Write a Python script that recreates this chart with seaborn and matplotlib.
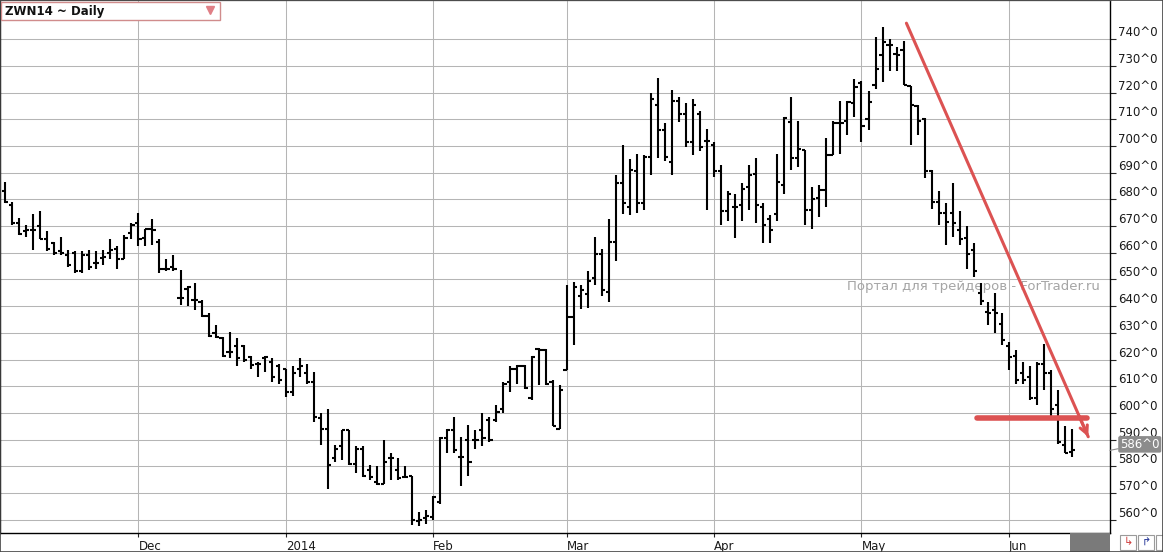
import numpy as np
import pandas as pd
import seaborn as sns
import matplotlib.pyplot as plt
from matplotlib.patches import Rectangle
from matplotlib.lines import Line2D
from matplotlib.ticker import FuncFormatter

sns.set_style('white')
plt.rcParams['font.family'] = ['DejaVu Sans']

# ZWN14 daily bars, Nov 4 2013 .. Jun 13 2014
title = 'ZWN14 ~ Daily'
watermark = 'Портал для трейдеров - ForTrader.ru'
holidays = ['2013-11-28', '2013-12-25', '2014-01-01', '2014-01-20',
            '2014-02-17', '2014-04-18', '2014-05-26']
month_labels = ['Dec', '2014', 'Feb', 'Mar', 'Apr', 'May', 'Jun']

opens = [683, 678, 671, 668, 668.5, 670, 665, 663.5, 660.5, 659, 660, 653, 659, 656, 658, 660, 661.5, 657.5, 667.5,
         671, 665.5, 669, 664, 654, 654.5, 643, 646.5, 642.5, 641.5, 636.5, 630, 628, 623, 625, 625, 621, 618.5,
         620.5, 619, 617.5,
         616.5, 608, 616.5, 615, 611.5, 598, 594, 583, 587.5, 593.5, 581, 586.5, 578.5, 574, 573.5, 583, 578.5,
         576, 576.5, 559.5, 560.5,
         561, 566.5, 590.5, 593.5, 583.5, 590, 590, 593.5, 597.5, 597.5, 601.5, 611.5, 616.5, 617.5, 605.5, 624,
         623.5, 611.5, 594,
         616, 636, 644, 644.5, 650.5, 659.5, 645.5, 664, 686, 677, 690.5, 678.5, 696, 715.5, 706, 694, 717, 712,
         701.5, 712, 702,
         700.5, 690.5, 675.5, 677, 678, 684.5, 689.5, 677, 672.5, 674.5, 685.5, 709, 695.5, 698.5, 676, 680.5,
         683.5, 696.5, 708.5, 709.5, 716,
         723.5, 710, 723, 734, 738, 734.5, 736, 722.5, 715, 710, 690.5, 679, 675, 675, 668.5, 665.5, 661, 645,
         638, 638.5, 633.5,
         625, 621.5, 615, 613.5, 605.5, 618.5, 615, 603, 588, 585.5]
highs = [686.5, 679, 673, 670.5, 674.5, 675.5, 668, 664, 666, 661, 660.5, 660.5, 661, 660.5, 661, 665, 662.5, 666.5,
         671,
         675, 669, 672.5, 665, 657.5, 659, 653.5, 647.5, 648.5, 642.5, 637.5, 633, 628.5, 630.5, 628, 625.5, 621.5,
         619, 621.5, 620.5, 618.5,
         616.5, 617.5, 620.5, 618.5, 615.5, 600, 601.5, 588, 593.5, 593.5, 587.5, 587.5, 580.5, 580, 590, 585, 583,
         580, 576.5, 563, 563.5,
         569, 591, 594, 598.5, 591, 595.5, 593.5, 600, 598.5, 603, 611.5, 617.5, 618, 618, 621.5, 624.5, 624,
         612.5, 610.5,
         648, 649, 648, 653, 666, 661.5, 672.5, 689, 700.5, 695, 697, 696.5, 720, 725.5, 708.5, 721, 718.5, 716,
         717.5, 713, 706.5,
         701.5, 693, 683, 682, 686, 693, 695.5, 678.5, 674, 697, 711, 718.5, 709.5, 698.5, 684.5, 685.5, 703,
         709.5, 717, 717, 725,
         724.5, 720.5, 741, 744.5, 740, 737, 739.5, 722.5, 715.5, 710.5, 691, 683, 678.5, 686, 675.5, 670, 663.5,
         648.5, 641.5, 645, 637.5,
         626.5, 623.5, 619, 617.5, 619, 626, 616, 608.5, 595, 594]
lows = [678.5, 670.5, 666.5, 666, 661, 665, 660.5, 659, 659, 654.5, 652.5, 652.5, 653.5, 654, 655.5, 657.5, 654,
        657.5, 665,
        662.5, 662.5, 663, 652.5, 653, 653, 640.5, 640, 638.5, 636, 628.5, 628, 621, 620.5, 617.5, 619, 616.5,
        613.5, 615.5, 611.5, 611,
        606, 606.5, 613.5, 611, 596.5, 588, 571.5, 581.5, 582.5, 580.5, 577.5, 576, 575, 573, 573.5, 575, 575,
        575.5, 558, 557.5, 558.5,
        560, 566, 585, 585, 572.5, 576.5, 586.5, 587.5, 589, 596.5, 600, 608, 611, 609, 605, 610.5, 610.5, 595,
        594,
        616, 625.5, 639, 639.5, 648, 644, 641.5, 657, 674.5, 674, 675, 676, 689, 695.5, 694.5, 689, 709, 699.5,
        696.5, 698, 676,
        688.5, 670.5, 672, 665.5, 672, 676, 671, 663.5, 663.5, 672, 682, 691, 692, 670.5, 669, 673.5, 677, 696.5,
        697, 704, 711,
        701.5, 706, 721.5, 724, 728, 728, 723, 700.5, 704, 688, 676.5, 670.5, 663, 666, 663, 654, 651, 640.5, 633,
        630, 625.5,
        616, 611, 611, 605, 603, 608.5, 599, 588.5, 585, 583.5]
closes = [679, 671, 667, 668.5, 668.5, 665, 661.5, 660, 660, 655.5, 653, 659, 654.5, 656, 658.5, 661, 657.5, 665.5,
          670.5,
          665, 669, 668.5, 654, 654, 654, 643, 647, 642.5, 636.5, 629, 628.5, 621.5, 623, 620.5, 620, 618, 618.5,
          621, 613.5, 612.5,
          608, 615, 617.5, 611.5, 598.5, 594, 580.5, 586.5, 593.5, 581, 586.5, 576.5, 576, 573.5, 581.5, 583,
          575.5, 576, 560, 560, 561.5,
          568.5, 590.5, 593.5, 586, 583.5, 581.5, 590, 590.5, 590, 600.5, 611, 616.5, 617.5, 609.5, 621, 623.5,
          611, 595, 608.5,
          636, 647, 646, 649.5, 659.5, 646, 664, 686, 678.5, 691, 678.5, 696, 717.5, 706, 696, 717, 712, 701.5,
          715.5, 699.5, 702,
          690.5, 675.5, 682, 677, 684, 689, 678, 670.5, 668.5, 686.5, 710.5, 695.5, 699, 676, 680, 683.5, 696.5,
          708.5, 708.5, 716.5, 722,
          707.5, 716.5, 729, 739, 738, 734, 723, 715.5, 709.5, 690.5, 679, 675, 671.5, 671, 665, 659.5, 653, 642,
          637.5, 637.5, 627.5,
          621, 612.5, 612.5, 605.5, 618.5, 615, 601.5, 589, 585, 586]

# hand-drawn annotations (bar index, price)
trend_x = [128.4, 154.3]
trend_y = [746.0, 591.1]
support_x = [138.4, 154.1]
support_y = [598.0, 598.0]

dates = pd.bdate_range('2013-11-04', '2014-06-13')
dates = dates[~dates.isin(pd.to_datetime(holidays))]
n = len(opens)
dates = dates[:n]
x = np.arange(n)
months = dates.to_period('M')
month_idx = [i for i in range(1, n) if months[i] != months[i - 1]]

W, H = 1163, 552
fig = plt.figure(figsize=(W / 100, H / 100), dpi=100)
ax = fig.add_axes([0, 19 / H, 1110 / W, 533 / H])

# OHLC bars
bar_kw = dict(color='black', lw=1.5, capstyle='butt', zorder=3)
ax.vlines(x, lows, highs, **bar_kw)
ax.hlines(opens, x - 0.45, x, **bar_kw)
ax.hlines(closes, x, x + 0.45, **bar_kw)

red = '#dc5252'
sns.lineplot(x=support_x, y=support_y, ax=ax, color=red, lw=4, zorder=4)
sns.lineplot(x=trend_x, y=trend_y, ax=ax, color=red, lw=2.2, zorder=4)
dx = trend_x[1] - trend_x[0]
dy = trend_y[1] - trend_y[0]
ax.annotate('', xy=(trend_x[1], trend_y[1]), xytext=(trend_x[1] - 0.05 * dx, trend_y[1] - 0.05 * dy),
            arrowprops=dict(arrowstyle='->', color=red, lw=2.2, mutation_scale=14, shrinkA=0, shrinkB=0),
            zorder=4)

ax.set_xlim(-0.712, 157.4)
ax.set_ylim(555.05, 754.68)

ax.set_xticks(month_idx)
ax.set_xticklabels(month_labels, ha='left')
ax.set_yticks(np.arange(560, 741, 10))
ax.yaxis.tick_right()
ax.yaxis.set_major_formatter(FuncFormatter(lambda v, p: f'{v:.0f}^0'))
plt.setp(ax.get_yticklabels(), va='bottom')
ax.tick_params(axis='x', bottom=True, direction='out', length=3, width=0.8, pad=2,
               labelsize=8.5, labelcolor='#1a1a1a')
ax.tick_params(axis='y', right=True, left=False, direction='out', length=4, width=0.8, pad=2,
               labelsize=8.5, labelcolor='#1a1a1a')
ax.grid(True, color='#b5b5b5', lw=0.75)
ax.set_axisbelow(True)
for s in ax.spines.values():
    s.set_visible(True)
    s.set_color('black')
    s.set_linewidth(1)
ax.spines['top'].set_color('#777777')

ax.text(1100 / 1110, 647.2, watermark, transform=ax.get_yaxis_transform(), ha='right', va='center',
        fontsize=9.5, color='#a5a5a5', zorder=2)

# last price marker
ax.annotate(f'{closes[-1]:.0f}^0', xy=(1.0, closes[-1]), xycoords=ax.get_yaxis_transform(),
            xytext=(10, 6), textcoords='offset pixels', ha='left', va='center', fontsize=8.5,
            color='white', annotation_clip=False,
            bbox=dict(boxstyle='round,pad=0.15', fc='#8c8c8c', ec='none'),
            arrowprops=dict(arrowstyle='-', color='#8c8c8c', lw=0.8, shrinkA=0, shrinkB=0), zorder=6)

# title box
fig.add_artist(Rectangle((1 / W, 1 - 20 / H), 219 / W, 18 / H, transform=fig.transFigure,
                         fc='white', ec='#d08c8c', lw=1, zorder=5))
fig.text(5 / W, 1 - 11 / H, title, ha='left', va='center', fontsize=8.5, fontweight='bold',
         color='#111111', zorder=6)
fig.add_artist(Line2D([210 / W], [1 - 9.5 / H], marker='v', markersize=6, color='#e07f86',
                      transform=fig.transFigure, zorder=6))

# bottom right widgets
fig.add_artist(Rectangle((1070 / W, 0), 40 / W, 19 / H, transform=fig.transFigure,
                         fc='#7a7a7a', ec='none', zorder=5))
for bx, sym, col in [(1120, '↳', '#d04040'), (1138, '↱', '#2a3a9a'), (1156, '', 'black')]:
    fig.add_artist(Rectangle((bx / W, 2 / H), 16 / W, 15 / H, transform=fig.transFigure,
                             fc='white', ec='#9a9a9a', lw=0.8, zorder=5))
    if sym:
        fig.text((bx + 8) / W, 9.5 / H, sym, ha='center', va='center', fontsize=8, color=col, zorder=6)

fig.add_artist(Rectangle((0, 0), 1, 1, transform=fig.transFigure, fc='none', ec='#444444', lw=1.2, zorder=7))

fig.savefig('out.png', dpi=100)
